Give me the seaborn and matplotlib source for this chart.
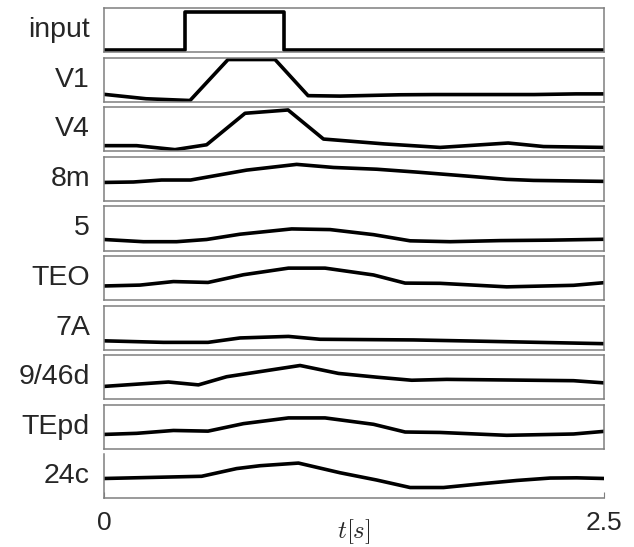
import matplotlib
matplotlib.use("Agg")
import matplotlib.pyplot as plt
import pandas as pd
import seaborn as sns

# nomes das áreas (de cima para baixo)
areas = ['input', 'V1', 'V4', '8m', '5', 'TEO', '7A', '9/46d', 'TEpd', '24c']

# valores: tempo [s] e atividade normalizada (fração da altura do painel)
t_input = [0.0, 0.405, 0.405, 0.9, 0.9, 2.5]
y_input = [0.06, 0.06, 0.92, 0.92, 0.06, 0.06]

t_v1 = [0.0, 0.21, 0.43, 0.62, 0.855, 1.02, 1.18, 1.48, 1.65, 2.15, 2.36, 2.5]
y_v1 = [0.17, 0.07, 0.03, 0.96, 0.96, 0.14, 0.13, 0.16, 0.165, 0.165, 0.18, 0.18]

t_v4 = [0.0, 0.163, 0.355, 0.513, 0.705, 0.92, 1.097, 1.4, 1.68, 2.02, 2.197, 2.5]
y_v4 = [0.13, 0.13, 0.04, 0.15, 0.865, 0.94, 0.28, 0.17, 0.09, 0.19, 0.11, 0.09]

t_8m = [0.0, 0.147, 0.288, 0.433, 0.713, 0.963, 1.147, 1.363, 1.563, 1.813, 2.013, 2.147, 2.5]
y_8m = [0.42, 0.43, 0.475, 0.475, 0.70, 0.83, 0.76, 0.72, 0.655, 0.565, 0.49, 0.466, 0.444]

t_5 = [0.0, 0.197, 0.363, 0.513, 0.68, 0.938, 1.13, 1.347, 1.53, 1.73, 1.98, 2.23, 2.5]
y_5 = [0.25, 0.20, 0.20, 0.25, 0.37, 0.49, 0.475, 0.36, 0.22, 0.20, 0.225, 0.235, 0.255]

t_teo = [0.0, 0.18, 0.347, 0.52, 0.697, 0.922, 1.105, 1.347, 1.505, 1.68, 2.013, 2.347, 2.5]
y_teo = [0.32, 0.34, 0.42, 0.40, 0.575, 0.725, 0.725, 0.57, 0.385, 0.38, 0.30, 0.335, 0.395]

t_7a = [0.0, 0.297, 0.52, 0.68, 0.922, 1.08, 1.547, 1.897, 2.5]
y_7a = [0.20, 0.165, 0.165, 0.265, 0.30, 0.235, 0.22, 0.19, 0.135]

t_946d = [0.0, 0.322, 0.472, 0.613, 0.98, 1.172, 1.363, 1.538, 1.713, 2.347, 2.5]
y_946d = [0.29, 0.39, 0.325, 0.51, 0.765, 0.585, 0.50, 0.43, 0.45, 0.42, 0.37]

t_tepd = [0.0, 0.163, 0.347, 0.52, 0.697, 0.922, 1.105, 1.347, 1.505, 1.68, 2.013, 2.347, 2.5]
y_tepd = [0.325, 0.35, 0.415, 0.40, 0.57, 0.70, 0.70, 0.555, 0.38, 0.37, 0.305, 0.335, 0.395]

t_24c = [0.0, 0.488, 0.663, 0.78, 0.972, 1.18, 1.363, 1.53, 1.697, 1.897, 2.063, 2.23, 2.363, 2.5]
y_24c = [0.45, 0.50, 0.675, 0.74, 0.80, 0.58, 0.415, 0.245, 0.245, 0.335, 0.405, 0.46, 0.465, 0.45]

series_t = [t_input, t_v1, t_v4, t_8m, t_5, t_teo, t_7a, t_946d, t_tepd, t_24c]
series_y = [y_input, y_v1, y_v4, y_8m, y_5, y_teo, y_7a, y_946d, y_tepd, y_24c]

sns.set_style('white')
plt.rcParams['font.family'] = ['Liberation Sans', 'DejaVu Sans']
plt.rcParams['mathtext.fontset'] = 'cm'

fig, axes = plt.subplots(len(areas), 1, figsize=(6.34, 5.47), dpi=100, sharex=True)
fig.subplots_adjust(left=0.164, right=0.953, top=0.985, bottom=0.089, hspace=0.125)

cor_borda = '#7f7f7f'

for ax, nome, tt, yy in zip(axes, areas, series_t, series_y):
    df = pd.DataFrame({'t': tt, 'y': yy})
    # sort=False para manter os degraus do input
    sns.lineplot(data=df, x='t', y='y', ax=ax, color='black', linewidth=2.6, sort=False,
                 estimator=None)
    ax.set_xlim(0, 2.5)
    ax.set_ylim(0, 1)
    ax.set_yticks([])
    ax.set_xlabel('')
    ax.set_ylabel(nome, rotation=0, ha='right', va='center', fontsize=20.5)
    ax.yaxis.set_label_coords(-0.028, 0.5)
    for lado in ax.spines.values():
        lado.set_color(cor_borda)
        lado.set_linewidth(1.1)
    ax.tick_params(axis='x', bottom=False, labelbottom=False)

# último painel: apenas eixos esquerdo e inferior, com os ticks
ax = axes[-1]
ax.spines['top'].set_visible(False)
ax.spines['right'].set_visible(False)
ax.set_xticks([0, 2.5])
ax.set_xticklabels(['0', '2.5'])
ax.tick_params(axis='x', bottom=True, labelbottom=True, direction='in', length=4,
               color=cor_borda, labelsize=19, pad=9)
ax.set_xlabel('$t[s]$', fontsize=18)
ax.xaxis.set_label_coords(0.5, -0.44)

fig.savefig('out.png', dpi=100)
